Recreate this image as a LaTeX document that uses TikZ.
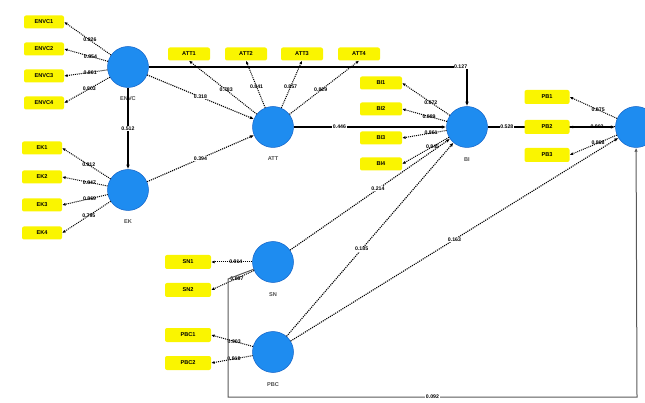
\documentclass[tikz,border=0pt]{standalone}
\usepackage{fontspec}
\setmainfont{Liberation Sans}
\usetikzlibrary{arrows.meta}
\pgfdeclarelayer{bg}
\pgfsetlayers{bg,main}
\definecolor{lvblue}{RGB}{30,140,240}
\definecolor{lvedge}{RGB}{20,100,200}
\definecolor{mvyellow}{RGB}{250,245,0}
\begin{document}
\begin{tikzpicture}[x=1pt,y=-1pt,
  lv/.style={circle, fill=lvblue, draw=lvedge, line width=0.5pt, minimum size=41pt, inner sep=0pt},
  mv/.style={rectangle, rounded corners=2pt, fill=mvyellow, minimum width=40pt, minimum height=13pt, inner sep=0pt, font=\fontsize{5.6}{6}\selectfont\bfseries},
  lvname/.style={font=\fontsize{5.6}{6}\selectfont\bfseries, text=black!70},
  ld/.style={-{Latex[length=3.4pt,width=3pt]}, densely dotted, line width=1pt},
  pth/.style={-{Latex[length=4.5pt,width=3.6pt]}, line width=1.3pt},
  pthd/.style={-{Latex[length=4pt,width=3.4pt]}, densely dotted, line width=1.1pt},
  loop/.style={-{Latex[length=4pt,width=3.4pt]}, line width=1pt, draw=black!65},
  cf/.style={font=\fontsize{5.2}{5.5}\selectfont\bfseries, inner sep=0.6pt}]
\useasboundingbox (0,0) rectangle (645,403);
\clip (0,0) rectangle (645,403);
% latent variables
\node[lv] (A) at (128,67) {};
\node[lv] (B) at (128,190) {};
\node[lv] (C) at (273,127) {};
\node[lv] (D) at (467,127) {};
\node[lv] (E) at (636,127) {};
\node[lv] (F) at (273,262) {};
\node[lv] (G) at (273,352) {};
\node[lvname] (An) at (128,99) {ENVC};
\node[lvname] (Bn) at (128,222) {EK};
\node[lvname] (Cn) at (273,159) {ATT};
\node[lvname] (Dn) at (467,160) {BI};
\node[lvname] (Fn) at (273,295) {SN};
\node[lvname] (Gn) at (273,385) {PBC};
% indicators
\node[mv] (A1) at (44,22) {ENVC1};
\node[mv] (A2) at (44,49) {ENVC2};
\node[mv] (A3) at (44,76) {ENVC3};
\node[mv] (A4) at (44,103) {ENVC4};
\node[mv] (B1) at (42,148) {EK1};
\node[mv] (B2) at (42,177) {EK2};
\node[mv] (B3) at (42,205) {EK3};
\node[mv] (B4) at (42,233) {EK4};
\node[mv,minimum width=42pt] (C1) at (189,54) {ATT1};
\node[mv,minimum width=42pt] (C2) at (246,54) {ATT2};
\node[mv,minimum width=42pt] (C3) at (302,54) {ATT3};
\node[mv,minimum width=42pt] (C4) at (359,54) {ATT4};
\node[mv,minimum width=42pt] (D1) at (381,83) {BI1};
\node[mv,minimum width=42pt] (D2) at (381,109) {BI2};
\node[mv,minimum width=42pt] (D3) at (381,138) {BI3};
\node[mv,minimum width=42pt] (D4) at (381,164) {BI4};
\node[mv,minimum width=45pt,minimum height=14pt] (E1) at (547,97) {PB1};
\node[mv,minimum width=45pt,minimum height=14pt] (E2) at (547,127) {PB2};
\node[mv,minimum width=45pt,minimum height=14pt] (E3) at (547,155) {PB3};
\node[mv,minimum width=46pt,minimum height=14pt] (F1) at (188,262) {SN1};
\node[mv,minimum width=46pt,minimum height=14pt] (F2) at (188,290) {SN2};
\node[mv,minimum width=46pt,minimum height=14pt] (G1) at (188,335) {PBC1};
\node[mv,minimum width=46pt,minimum height=14pt] (G2) at (188,363) {PBC2};
% loadings
\draw[ld] (A) -- node[cf,pos=0.45]{0.826} (A1.east);
\draw[ld] (A) -- node[cf,pos=0.4]{0.854} (A2.east);
\draw[ld] (A) -- node[cf,pos=0.4]{0.861} (A3.east);
\draw[ld] (A) -- node[cf,pos=0.45]{0.803} (A4.east);
\draw[ld] (B) -- node[cf,pos=0.45]{0.812} (B1.east);
\draw[ld] (B) -- node[cf,pos=0.4]{0.847} (B2.east);
\draw[ld] (B) -- node[cf,pos=0.4]{0.869} (B3.east);
\draw[ld] (B) -- node[cf,pos=0.45]{0.795} (B4.east);
\draw[ld] (C) -- node[cf,pos=0.45]{0.783} (C1.south);
\draw[ld] (C) -- node[cf,pos=0.45]{0.841} (C2.south);
\draw[ld] (C) -- node[cf,pos=0.45]{0.857} (C3.south);
\draw[ld] (C) -- node[cf,pos=0.45]{0.829} (C4.south);
\draw[ld] (D) -- node[cf,pos=0.4]{0.872} (D1.east);
\draw[ld] (D) -- node[cf,pos=0.4]{0.889} (D2.east);
\draw[ld] (D) -- node[cf,pos=0.35]{0.861} (D3.east);
\draw[ld] (D) -- node[cf,pos=0.35]{0.845} (D4.east);
\draw[ld] (E) -- node[cf,pos=0.4]{0.875} (E1.east);
\draw[ld] (E) -- node[cf,pos=0.4]{0.902} (E2.east);
\draw[ld] (E) -- node[cf,pos=0.4]{0.868} (E3.east);
\draw[ld] (F) -- node[cf,pos=0.4]{0.914} (F1.east);
\draw[ld] (F) -- node[cf,pos=0.4]{0.897} (F2.east);
\draw[ld] (G) -- node[cf,pos=0.45]{0.903} (G1.east);
\draw[ld] (G) -- node[cf,pos=0.45]{0.918} (G2.east);
% structural paths
\coordinate (ADc) at (467,67);
\draw[pth] (A) -- node[cf,pos=0.5,fill=white]{0.512} (B);
\draw[pthd] (A) -- node[cf,pos=0.5,fill=white]{0.318} (C);
\draw[pthd] (B) -- node[cf,pos=0.5,fill=white]{0.394} (C);
\draw[pth] (A.east) -- node[cf,pos=0.98,fill=white]{0.127} (ADc) -- (D.north);
\draw[pth] (C) -- node[cf,pos=0.3,fill=white]{0.446} (D);
\draw[pthd] (F) -- node[cf,pos=0.55,fill=white]{0.214} (D);
\draw[pthd] (G) -- node[cf,pos=0.45,fill=white]{0.185} (D);
\draw[pthd] (G) -- node[cf,pos=0.5,fill=white]{0.163} (E);
\begin{pgfonlayer}{bg}
\draw[pth] (D) -- node[cf,pos=0.15,fill=white]{0.528} (E);
\end{pgfonlayer}
\coordinate (L1) at (228,279);
\coordinate (L2) at (228,397);
\coordinate (L3) at (637,397);
\draw[loop] (F) -- (L1) -- (L2) -- node[cf,pos=0.5,fill=white]{0.092} (L3) -- (E);
\end{tikzpicture}
\end{document}
